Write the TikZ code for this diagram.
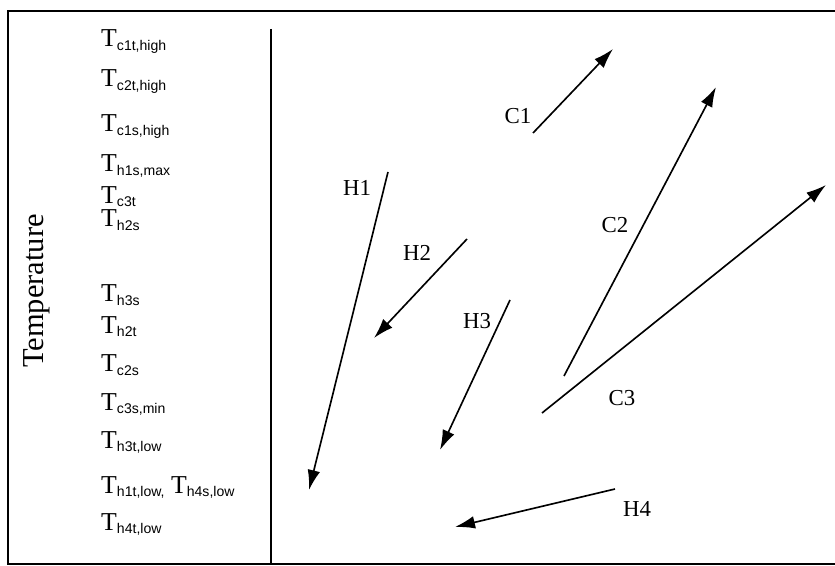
\documentclass[tikz,border=0pt]{standalone}
\usepackage{fontspec}
\setmainfont{Liberation Serif}
\newfontfamily\subfont{Liberation Sans}
\usepackage{tikz}
\usetikzlibrary{arrows.meta}

\newcommand{\tlevel}[1]{T\raisebox{-3pt}{\subfont\fontsize{12}{14}\selectfont #1}}

\begin{document}
\begin{tikzpicture}[
            x=0.03cm, y=-0.03cm,
            frame/.style={line width=1.4pt},
            level/.style={
                anchor=base west,
                inner sep=0pt,
                font=\fontsize{22}{26}\selectfont
            },
            stream/.style={-{Latex[length=6mm,width=3.8mm]}, line width=1.4pt},
            streamname/.style={inner sep=0pt, font=\fontsize{19.5}{23}\selectfont}
        ]

        \useasboundingbox (0,0) rectangle (835,566);
        \draw[frame] (8,11) rectangle (850,564);
        \coordinate (axistop) at (271,29);
        \coordinate (axisbottom) at (271,564);
        \draw[frame] (axistop) -- (axisbottom);

        \node[rotate=90, inner sep=0pt, font=\fontsize{26}{30}\selectfont] (temp) at (37,291) {Temperature};

        % temperature levels
        \node[level] (Tc1tHigh) at (101,46.5) {\tlevel{c1t,high}};
        \node[level] (Tc2tHigh) at (101,87) {\tlevel{c2t,high}};
        \node[level] (Tc1sHigh) at (101,131.5) {\tlevel{c1s,high}};
        \node[level] (Th1sMax) at (101,171.5) {\tlevel{h1s,max}};
        \node[level] (Tc3t) at (101,203) {\tlevel{c3t}};
        \node[level] (Th2s) at (101,226.5) {\tlevel{h2s}};
        \node[level] (Th3s) at (101,301.5) {\tlevel{h3s}};
        \node[level] (Th2t) at (101,333) {\tlevel{h2t}};
        \node[level] (Tc2s) at (101,371.5) {\tlevel{c2s}};
        \node[level] (Tc3sMin) at (101,410) {\tlevel{c3s,min}};
        \node[level] (Th3tLow) at (101,448) {\tlevel{h3t,low}};
        \node[level] (Th1tLow) at (101,493) {\tlevel{h1t,low,} \tlevel{h4s,low}};
        \node[level] (Th4tLow) at (101,530) {\tlevel{h4t,low}};

        % cold streams
        \coordinate (c1in) at (533,133);  \coordinate (c1out) at (613,49);
        \coordinate (c2in) at (564,376);  \coordinate (c2out) at (716,87);
        \coordinate (c3in) at (542,413);  \coordinate (c3out) at (826,185);
        % hot streams
        \coordinate (h1in) at (388,172);  \coordinate (h1out) at (309,490);
        \coordinate (h2in) at (467,239);  \coordinate (h2out) at (374,338);
        \coordinate (h3in) at (510,300);  \coordinate (h3out) at (440,450);
        \coordinate (h4in) at (615,489);  \coordinate (h4out) at (455,527);

        \draw[stream] (c1in) -- (c1out);
        \draw[stream] (c2in) -- (c2out);
        \draw[stream] (c3in) -- (c3out);
        \draw[stream] (h1in) -- (h1out);
        \draw[stream] (h2in) -- (h2out);
        \draw[stream] (h3in) -- (h3out);
        \draw[stream] (h4in) -- (h4out);

        \node[streamname] (C1) at (518,116) {C1};
        \node[streamname] (C2) at (615,225) {C2};
        \node[streamname] (C3) at (622,398) {C3};
        \node[streamname] (H1) at (357,188) {H1};
        \node[streamname] (H2) at (417,253) {H2};
        \node[streamname] (H3) at (477,321) {H3};
        \node[streamname] (H4) at (637,509) {H4};

        \end{tikzpicture}
\end{document}
